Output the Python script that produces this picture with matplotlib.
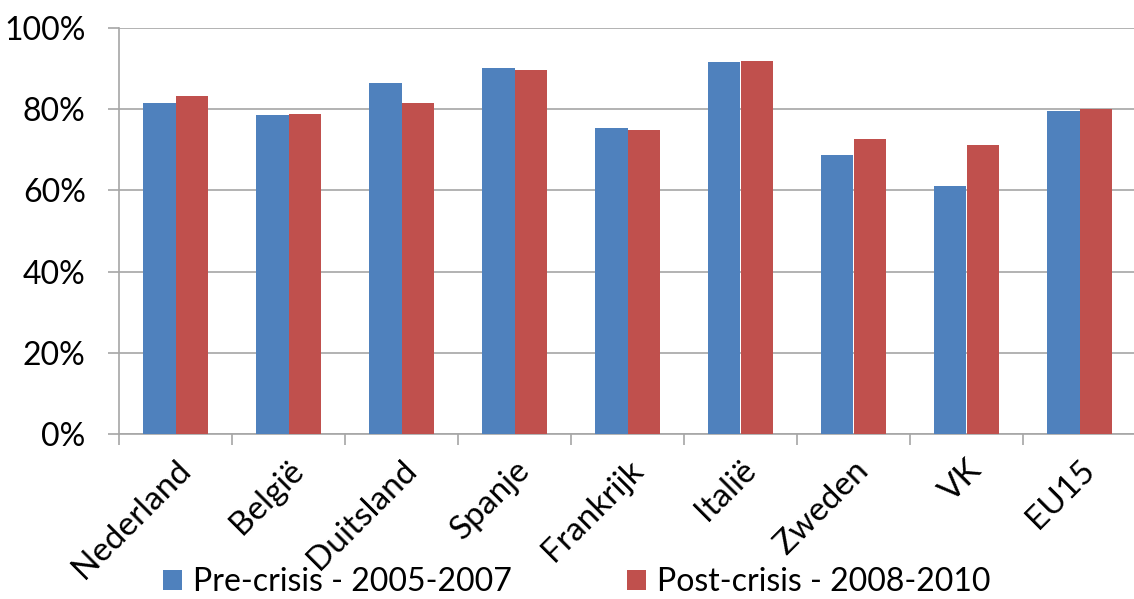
import numpy as np
import matplotlib.pyplot as plt
from matplotlib.ticker import PercentFormatter, FixedLocator

landen = ["Nederland", "België", "Duitsland", "Spanje", "Frankrijk",
          "Italië", "Zweden", "VK", "EU15"]
pre_crisis = [81.6, 78.6, 86.5, 90.2, 75.4, 91.6, 68.8, 61.2, 79.6]
post_crisis = [83.3, 78.8, 81.6, 89.7, 74.9, 91.9, 72.7, 71.3, 80.1]
label_pre = "Pre-crisis - 2005-2007"
label_post = "Post-crisis - 2008-2010"

blue = "#4f81bd"
red = "#c0504d"
grid_c = "#a6a6a6"

plt.rcParams["font.family"] = ["Lato", "DejaVu Sans"]

fig = plt.figure(figsize=(11.34, 5.99), dpi=100)
ax = fig.add_axes([119 / 1134, 1 - 434 / 599, (1136 - 119) / 1134, (434 - 28) / 599])

x = np.arange(len(landen))
w = 1 / 3.5
ax.bar(x - w / 2, pre_crisis, w, color=blue, label=label_pre, zorder=3)
ax.bar(x + w / 2, post_crisis, w, color=red, label=label_post, zorder=3)

ax.set_xlim(-0.5, len(landen) - 0.5)
ax.set_ylim(0, 100)
ax.yaxis.set_major_locator(FixedLocator([0, 20, 40, 60, 80, 100]))
ax.yaxis.set_major_formatter(PercentFormatter(decimals=0))
ax.grid(axis="y", color=grid_c, linewidth=1.2, zorder=0)

ax.set_xticks(np.arange(len(landen) + 1) - 0.5)
ax.set_xticklabels([])
ax.set_xticks(x, minor=True)
ax.set_xticklabels(landen, minor=True, rotation=45, ha="right",
                   rotation_mode="anchor", fontsize=24)
ax.tick_params(axis="x", which="minor", length=0, pad=15)
ax.tick_params(axis="x", which="major", length=8, color=grid_c, width=1.2)
ax.tick_params(axis="y", length=8, color=grid_c, width=1.2, labelsize=23, pad=16)

for side in ["top", "right"]:
    ax.spines[side].set_visible(False)
for side in ["left", "bottom"]:
    ax.spines[side].set_color(grid_c)
    ax.spines[side].set_linewidth(1.2)

fig.legend(loc="lower left", bbox_to_anchor=(158 / 1134, -0.005), ncol=2,
           frameon=False, fontsize=23, handlelength=0.6, handleheight=0.6,
           handletextpad=0.35, columnspacing=3.6, borderaxespad=0,
           borderpad=0.15)

fig.savefig("out.png", dpi=100)
